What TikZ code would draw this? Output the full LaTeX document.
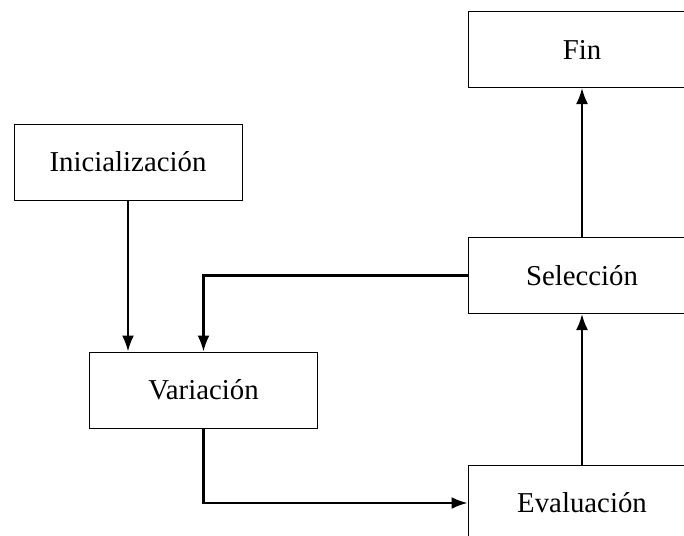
\documentclass[tikz,border=0pt]{standalone}
\usepackage{fontspec}
\setmainfont{Liberation Serif}
\usetikzlibrary{arrows.meta}
\begin{document}
\begin{tikzpicture}[x=1pt,y=1pt,
  box/.style={draw, line width=1pt, minimum width=228pt, minimum height=76pt, inner sep=0pt,
    font=\fontsize{28.8}{34}\selectfont},
  conn/.style={line width=2.2pt, -{Latex[length=16pt,width=12pt]}}]
\useasboundingbox (0,0) rectangle (684,-535);
\clip (0,0) rectangle (684,-535);
\node[box] (fin) at (582,-49.5) {Fin};
\node[box] (ini) at (128,-162) {Inicialización};
\node[box] (var) at (203.5,-390) {Variación};
\node[box] (sel) at (582,-275.5) {Selección};
\node[box] (eva) at (582,-503) {Evaluación};
\draw[conn] (ini.south) -- (ini.south |- var.north);
\draw[conn] (sel.west) -| (var.north);
\draw[conn] (var.south) |- (eva.west);
\draw[conn] (eva.north) -- (sel.south);
\draw[conn] (sel.north) -- (fin.south);
\end{tikzpicture}
\end{document}
